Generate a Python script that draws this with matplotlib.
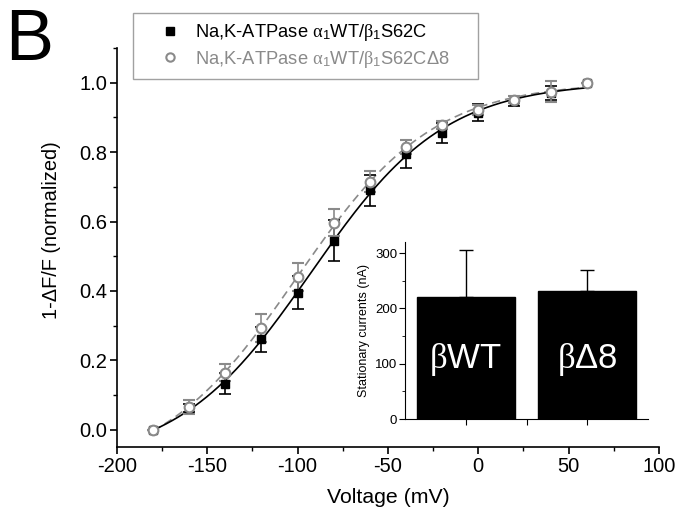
"""
Curva Q-V normalizada (1-ΔF/F) para β1S62C vs β1S62CΔ8, com inset das
correntes estacionárias. Salva em out.png.
"""
import numpy as np
import matplotlib
matplotlib.use("Agg")
import matplotlib.pyplot as plt
from matplotlib.ticker import MultipleLocator
from matplotlib.lines import Line2D

plt.rcParams["font.family"] = ["Liberation Sans", "DejaVu Sans"]
plt.rcParams["axes.unicode_minus"] = False
plt.rcParams["mathtext.fontset"] = "custom"
plt.rcParams["mathtext.rm"] = "Liberation Sans"
plt.rcParams["mathtext.it"] = "Liberation Serif"
plt.rcParams["mathtext.bf"] = "Liberation Sans:bold"

# dados
voltage = [-180, -160, -140, -120, -100, -80, -60, -40, -20, 0, 20, 40, 60]
wt_mean = [0.0, 0.062, 0.133, 0.26, 0.395, 0.545, 0.69, 0.795, 0.855, 0.914, 0.948, 0.97, 1.0]
wt_err = [0.0, 0.012, 0.03, 0.035, 0.048, 0.06, 0.045, 0.04, 0.03, 0.025, 0.015, 0.02, 0.0]
d8_mean = [0.0, 0.066, 0.164, 0.294, 0.44, 0.597, 0.715, 0.816, 0.879, 0.922, 0.951, 0.974, 1.0]
d8_err = [0.0, 0.02, 0.025, 0.04, 0.04, 0.04, 0.03, 0.02, 0.012, 0.015, 0.01, 0.03, 0.0]

bar_labels = [r"$\beta$WT", r"$\beta\Delta$8"]
bar_mean = [220, 231]
bar_err = [85, 38]

GRAY = "#8a8a8a"


def boltzmann_fit(v, y):
    # grade simples em V1/2 e k; base/topo por mínimos quadrados
    v = np.asarray(v, float); y = np.asarray(y, float)
    best = None
    for v0 in np.arange(-130, -50, 0.25):
        for k in np.arange(10, 50, 0.2):
            s = 1 / (1 + np.exp(-(v - v0) / k))
            A = np.column_stack([np.ones_like(s), s])
            coef, *_ = np.linalg.lstsq(A, y, rcond=None)
            r = np.sum((A @ coef - y) ** 2)
            if best is None or r < best[0]:
                best = (r, v0, k, coef)
    _, v0, k, (b, a) = best
    return lambda x: b + a / (1 + np.exp(-(x - v0) / k))


fig = plt.figure(figsize=(6.8, 5.14), dpi=100)
ax = fig.add_axes([0.172, 0.1304, 0.797, 0.776])

xx = np.linspace(-180, 60, 300)
f_wt = boltzmann_fit(voltage, wt_mean)
f_d8 = boltzmann_fit(voltage, d8_mean)
ax.plot(xx, f_d8(xx), "--", color=GRAY, lw=1.2, dashes=(5, 3))
ax.plot(xx, f_wt(xx), "-", color="black", lw=1.2)

ax.errorbar(voltage, wt_mean, yerr=wt_err, fmt="s", color="black", ms=6,
            ecolor="black", elinewidth=1.2, capsize=4.5, capthick=1.2)
ax.errorbar(voltage, d8_mean, yerr=d8_err, fmt="o", mfc="white", mec=GRAY, mew=1.5,
            ms=7, ecolor=GRAY, elinewidth=1.2, capsize=4.5, capthick=1.2)

ax.set_xlim(-200, 100)
ax.set_ylim(-0.05, 1.1)
ax.xaxis.set_major_locator(MultipleLocator(50))
ax.xaxis.set_minor_locator(MultipleLocator(25))
ax.yaxis.set_minor_locator(MultipleLocator(0.1))
ax.set_yticks([0, 0.2, 0.4, 0.6, 0.8, 1.0])
ax.set_yticklabels(["0.0", "0.2", "0.4", "0.6", "0.8", "1.0"])
for s in ("top", "right"):
    ax.spines[s].set_visible(False)
for s in ("left", "bottom"):
    ax.spines[s].set_linewidth(1.2)
ax.tick_params(which="major", direction="out", length=5, width=1.2, labelsize=14.5, pad=2)
ax.tick_params(which="minor", direction="out", length=3, width=1.0)
ax.set_xlabel("Voltage (mV)", fontsize=15.3, labelpad=9)
ax.set_ylabel("1-ΔF/F (normalized)", fontsize=14.4)
ax.yaxis.set_label_coords(-0.103, 0.544)

handles = [
    Line2D([], [], ls="none", marker="s", color="black", ms=6),
    Line2D([], [], ls="none", marker="o", mfc="white", mec=GRAY, mew=1.5, ms=6),
]
labels = [r"Na,K-ATPase $\alpha_1$WT/$\beta_1$S62C",
          r"Na,K-ATPase $\alpha_1$WT/$\beta_1$S62C$\Delta$8"]
leg = fig.legend(handles, labels, loc="upper left",
                 bbox_to_anchor=(133 / 680, 1 - 80 / 514, 345 / 680, 67 / 514),
                 mode="expand", fontsize=13.2, frameon=True, fancybox=False,
                 edgecolor=GRAY, handletextpad=-0.1, borderpad=0.5, labelspacing=0.3,
                 handlelength=3.0, borderaxespad=0)
leg.get_frame().set_linewidth(1.0)
leg.get_texts()[1].set_color(GRAY)

fig.text(0.008, 0.985, "B", fontsize=52, va="top", ha="left")

# inset: correntes estacionárias
ins = fig.add_axes([0.5956, 0.1848, 0.3574, 0.3442])
pos = [1, 2]
ins.bar(pos, bar_mean, width=0.81, color="black", edgecolor="black")
ins.errorbar(pos, bar_mean, yerr=[[0, 0], bar_err], fmt="none", ecolor="black",
             elinewidth=1.0, capsize=5, capthick=1.0)
for p, lab in zip(pos, bar_labels):
    ins.text(p, 107, lab, color="white", fontsize=25, ha="center", va="center")
ins.set_xlim(0.5, 2.5)
ins.set_ylim(0, 320)
ins.set_xticks([1, 1.5, 2])
ins.set_xticklabels([])
ins.yaxis.set_major_locator(MultipleLocator(100))
ins.yaxis.set_minor_locator(MultipleLocator(50))
for s in ("top", "right"):
    ins.spines[s].set_visible(False)
ins.tick_params(which="major", direction="out", length=4, labelsize=9.5, pad=1.5)
ins.tick_params(which="minor", direction="out", length=2)
ins.set_ylabel("Stationary currents (nA)", fontsize=9, labelpad=4)

fig.savefig("out.png", dpi=100)
